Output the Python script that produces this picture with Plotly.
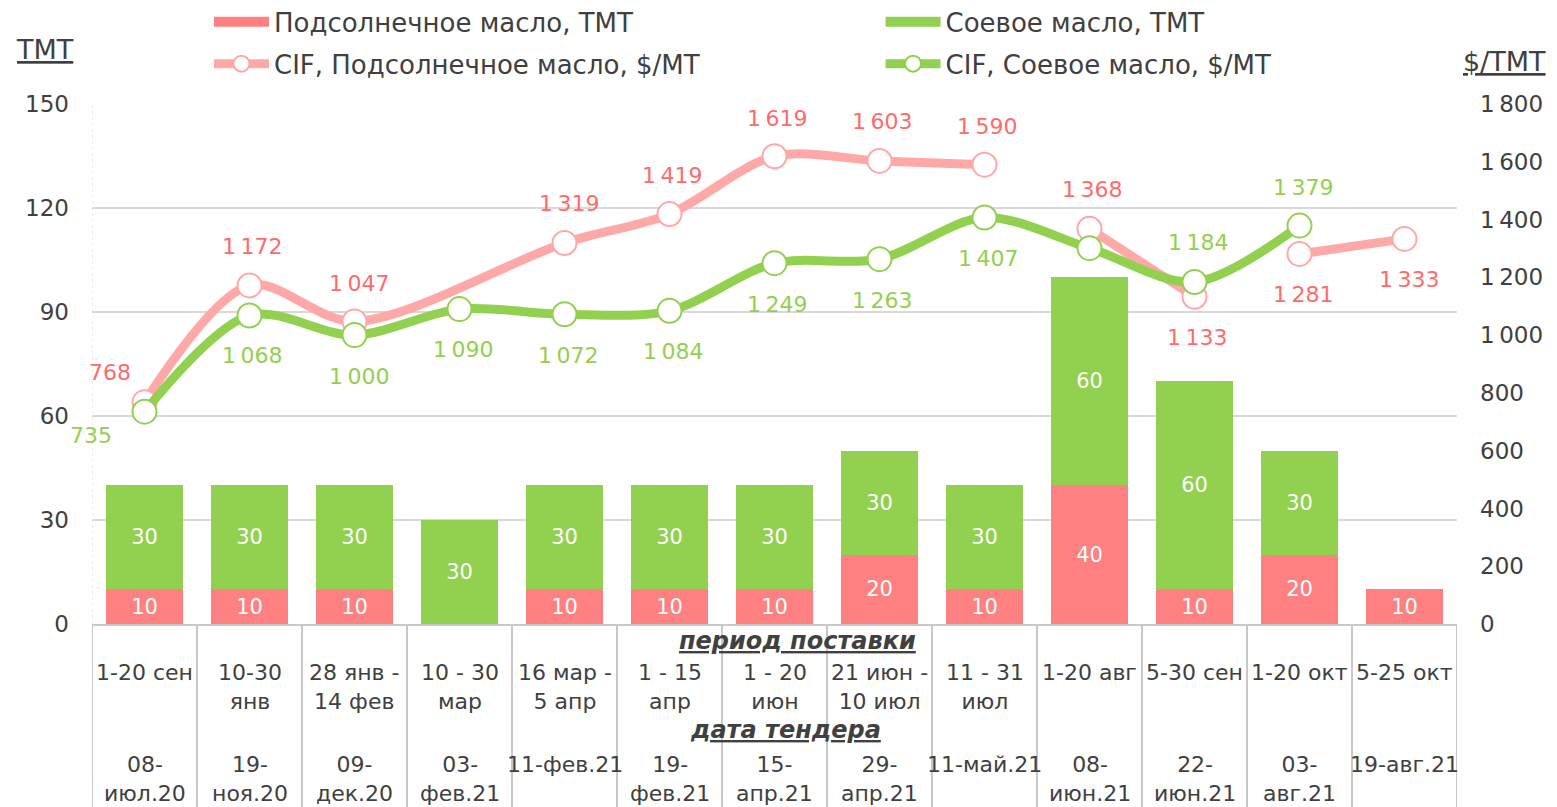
import plotly.graph_objects as go

# ---------------- data ----------------
delivery = ["1-20 сен", "10-30<br>янв", "28 янв -<br>14 фев", "10 - 30<br>мар", "16 мар -<br>5 апр",
            "1 - 15<br>апр", "1 - 20<br>июн", "21 июн -<br>10 июл", "11 - 31<br>июл", "1-20 авг",
            "5-30 сен", "1-20 окт", "5-25 окт"]
tender = ["08-<br>июл.20", "19-<br>ноя.20", "09-<br>дек.20", "03-<br>фев.21", "11-фев.21",
          "19-<br>фев.21", "15-<br>апр.21", "29-<br>апр.21", "11-май.21", "08-<br>июн.21",
          "22-<br>июн.21", "03-<br>авг.21", "19-авг.21"]
sun_tmt = [10, 10, 10, None, 10, 10, 10, 20, 10, 40, 10, 20, 10]
soy_tmt = [30, 30, 30, 30, 30, 30, 30, 30, 30, 60, 60, 30, None]
cif_sun = [768, 1172, 1047, None, 1319, 1419, 1619, 1603, 1590, 1368, 1133, 1281, 1333]
cif_soy = [735, 1068, 1000, 1090, 1072, 1084, 1249, 1263, 1407, 1301, 1184, 1379, None]
cif_soy_labeled = [True] * 9 + [False, True, True, False]
# label offsets (px) for line data labels
sun_lbl_dx = [-35, 2, 4, 0, 4, 2, 2, 2, 2, 2, 2, 3, 4]
sun_lbl_dy = [30, 39, 38, 0, 39, 39, 38, 39, 38, 39, -41, -41, -41]
soy_lbl_dx = [-54, 2, 4, 3, 3, 3, 2, 2, 3, 0, 3, 3, 0]
soy_lbl_dy = [-24, -40, -41, -40, -41, -41, -41, -41, -41, 0, 39, 38, 0]

x = list(range(len(delivery)))

PINK_BAR = "#FF8080"
PINK_LINE = "#FFA8A8"
PINK_TXT = "#FF6B6B"
GREEN = "#92D050"
GRAY_TXT = "#404040"
FONT = "DejaVu Sans"

fig = go.Figure()

fig.add_trace(go.Bar(x=x, y=sun_tmt, name="Подсолнечное масло, ТМТ", marker_color=PINK_BAR,
                     marker_line_width=0, text=[str(v) if v else "" for v in sun_tmt],
                     textposition="inside", insidetextanchor="middle", textangle=0,
                     textfont=dict(color="white", size=21, family=FONT), showlegend=False))
fig.add_trace(go.Bar(x=x, y=soy_tmt, name="Соевое масло, ТМТ", marker_color=GREEN,
                     marker_line_width=0, text=[str(v) if v else "" for v in soy_tmt],
                     textposition="inside", insidetextanchor="middle", textangle=0,
                     textfont=dict(color="white", size=21, family=FONT), showlegend=False))

# legend-only entries (wide rectangles like the original legend keys)
fig.add_trace(go.Scatter(x=[None], y=[None], mode="lines", name="Подсолнечное масло, ТМТ",
                         line=dict(color=PINK_BAR, width=10), legend="legend", legendgroup="a"))
fig.add_trace(go.Scatter(x=[None], y=[None], mode="lines", name="Соевое масло, ТМТ",
                         line=dict(color=GREEN, width=10), legend="legend2", legendgroup="c"))

# sunflower CIF line in segments (breaks as in the original)
segments = [(0, 9), (9, 11), (11, 13)]
for k, (a, b) in enumerate(segments):
    fig.add_trace(go.Scatter(x=x[a:b], y=cif_sun[a:b], yaxis="y2", mode="lines+markers",
                             name="CIF, Подсолнечное масло, $/МТ", showlegend=(k == 0),
                             connectgaps=True, legend="legend", legendgroup="b",
                             line=dict(color=PINK_LINE, width=9, shape="spline", smoothing=0.9),
                             marker=dict(size=24, color="white", line=dict(color=PINK_LINE, width=2))))

fig.add_trace(go.Scatter(x=x, y=cif_soy, yaxis="y2", mode="lines+markers",
                         name="CIF, Соевое масло, $/МТ", legend="legend2", legendgroup="d",
                         line=dict(color=GREEN, width=9, shape="spline", smoothing=0.9),
                         marker=dict(size=24, color="white", line=dict(color=GREEN, width=2))))

def fmt(v):
    return f"{v:,}".replace(",", "\u2009")

ann = []
for i, v in enumerate(cif_sun):
    if v is None:
        continue
    ann.append(dict(x=x[i], y=v, xref="x", yref="y2", text=fmt(v), showarrow=False,
                    xshift=sun_lbl_dx[i], yshift=sun_lbl_dy[i],
                    font=dict(color=PINK_TXT, size=22, family=FONT)))
for i, v in enumerate(cif_soy):
    if v is None or not cif_soy_labeled[i]:
        continue
    ann.append(dict(x=x[i], y=v, xref="x", yref="y2", text=fmt(v), showarrow=False,
                    xshift=soy_lbl_dx[i], yshift=soy_lbl_dy[i],
                    font=dict(color=GREEN, size=22, family=FONT)))

# category table labels (plot area: y=104..624 px -> paper 1..0)
for i in x:
    ann.append(dict(x=i, y=-0.0654, xref="x", yref="paper", text=delivery[i], showarrow=False,
                    yanchor="top", align="center", font=dict(color=GRAY_TXT, size=22, family=FONT)))
    ann.append(dict(x=i, y=-0.2425, xref="x", yref="paper", text=tender[i], showarrow=False,
                    yanchor="top", align="center", font=dict(color=GRAY_TXT, size=22, family=FONT)))
ann.append(dict(x=6.22, y=-0.033, xref="x", yref="paper", text="<b><i><u>период поставки</u></i></b>",
                showarrow=False, yanchor="middle", font=dict(color=GRAY_TXT, size=24, family=FONT)))
ann.append(dict(x=6.1, y=-0.204, xref="x", yref="paper", text="<b><i><u>дата тендера</u></i></b>",
                showarrow=False, yanchor="middle", font=dict(color=GRAY_TXT, size=24, family=FONT)))
# axis unit titles
ann.append(dict(x=-0.0344, y=1.104, xref="paper", yref="paper", text="<u>ТМТ</u>", showarrow=False,
                xanchor="center", yanchor="middle", font=dict(color=GRAY_TXT, size=27, family=FONT)))
ann.append(dict(x=1.035, y=1.081, xref="paper", yref="paper", text="<u>$/ТМТ</u>", showarrow=False,
                xanchor="center", yanchor="middle", font=dict(color=GRAY_TXT, size=27, family=FONT)))

shapes = []
for b in range(len(x) + 1):
    shapes.append(dict(type="line", xref="x", yref="paper", x0=b - 0.5, x1=b - 0.5, y0=0, y1=-0.36,
                       line=dict(color="#C8C8C8", width=2)))
shapes.append(dict(type="line", xref="x", yref="paper", x0=-0.5, x1=-0.5, y0=0, y1=1,
                   line=dict(color="#D9D9D9", width=1, dash="dot"), layer="below"))

legend_common = dict(yanchor="top", orientation="v", itemwidth=55,
                     font=dict(size=26, color=GRAY_TXT, family=FONT), tracegroupgap=5,
                     bgcolor="rgba(0,0,0,0)", traceorder="grouped")

fig.update_layout(
    width=1557, height=807,
    margin=dict(l=92, r=100, t=104, b=183, autoexpand=False),
    plot_bgcolor="white", paper_bgcolor="white",
    barmode="stack", bargap=0.27,
    font=dict(family=FONT, color=GRAY_TXT, size=22),
    xaxis=dict(range=[-0.5, 12.5], showticklabels=False, showgrid=False, zeroline=False,
               showline=True, linecolor="#C8C8C8", linewidth=2, fixedrange=True),
    yaxis=dict(range=[0, 150], tickvals=[0, 30, 60, 90, 120, 150], showgrid=True,
               gridcolor="#D9D9D9", gridwidth=2, zeroline=False, showline=False,
               ticklabelstandoff=22, tickfont=dict(size=23, color=GRAY_TXT)),
    yaxis2=dict(range=[0, 1800], overlaying="y", side="right", showgrid=False, zeroline=False,
                tickvals=list(range(0, 1801, 200)), ticktext=[fmt(v) for v in range(0, 1801, 200)],
                ticklabelstandoff=22, tickfont=dict(size=23, color=GRAY_TXT)),
    legend=dict(x=0.0857, y=1.203, xanchor="left", **legend_common),
    legend2=dict(x=0.5777, y=1.203, xanchor="left", **legend_common),
    annotations=ann, shapes=shapes,
)

fig.write_html("out.html")
